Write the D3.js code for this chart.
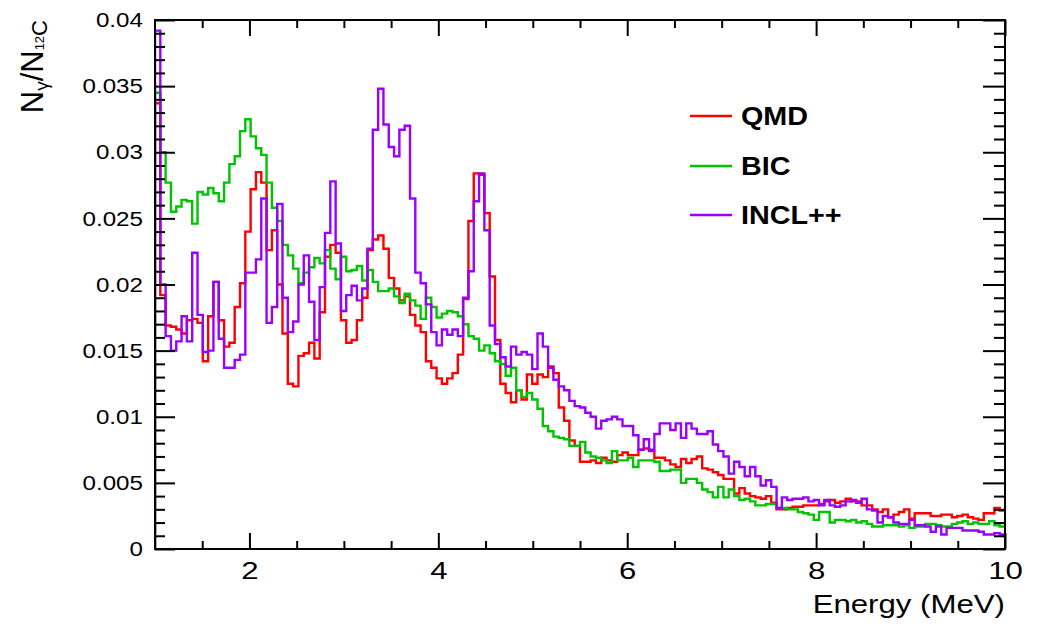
<!DOCTYPE html>
<html>
<head>
<meta charset="utf-8">
<script src="https://cdn.jsdelivr.net/npm/d3@7"></script>
<style>
  body { margin: 0; background: #fff; }
  text { font-family: "Liberation Sans", Arial, Helvetica, sans-serif; fill: #000; }
</style>
</head>
<body>
<svg id="chart" width="1038" height="631"></svg>
<script>
// ---------------------------------------------------------------------------
// Data: gamma yield per 12C ion, 160 bins between 1 and 10 MeV

const energyMin = 1;
const energyMax = 10;
const binCount = 160;

const qmdValues = [
  0.0337, 0.0192, 0.0169, 0.0168, 0.0166, 0.0163, 0.0173, 0.0174, 0.0171, 0.0142,
  0.0176, 0.0202, 0.0173, 0.0153, 0.0156, 0.0183, 0.0201, 0.0240, 0.0272, 0.0285,
  0.0277, 0.0226, 0.0241, 0.0200, 0.0163, 0.0125, 0.0123, 0.0146, 0.0148, 0.0156,
  0.0144, 0.0179, 0.0221, 0.0230, 0.0224, 0.0173, 0.0156, 0.0158, 0.0173, 0.0190,
  0.0226, 0.0234, 0.0237, 0.0227, 0.0205, 0.0197, 0.0188, 0.0191, 0.0177, 0.0169,
  0.0164, 0.0142, 0.0137, 0.0129, 0.0125, 0.0129, 0.0133, 0.0147, 0.0189, 0.0248,
  0.0284, 0.0283, 0.0254, 0.0206, 0.0158, 0.0125, 0.0118, 0.0111, 0.0120, 0.0113,
  0.0132, 0.0125, 0.0132, 0.0130, 0.0138, 0.0133, 0.0107, 0.0097, 0.0082, 0.0078,
  0.0066, 0.0066, 0.0067, 0.0065, 0.0069, 0.0067, 0.0066, 0.0071, 0.0073, 0.0071,
  0.0071, 0.0075, 0.0076, 0.0074, 0.0069, 0.0069, 0.0067, 0.0064, 0.0062, 0.0068,
  0.0065, 0.0068, 0.0070, 0.0061, 0.0060, 0.0058, 0.0056, 0.0053, 0.0053, 0.0042,
  0.0046, 0.0042, 0.0040, 0.0039, 0.0038, 0.0040, 0.0035, 0.0030, 0.0030, 0.0031,
  0.0032, 0.0032, 0.0033, 0.0033, 0.0033, 0.0034, 0.0036, 0.0037, 0.0035, 0.0036,
  0.0038, 0.0036, 0.0036, 0.0033, 0.0033, 0.0030, 0.0028, 0.0030, 0.0024, 0.0026,
  0.0028, 0.0030, 0.0023, 0.0027, 0.0027, 0.0027, 0.0025, 0.0025, 0.0026, 0.0026,
  0.0024, 0.0025, 0.0026, 0.0024, 0.0023, 0.0022, 0.0027, 0.0027, 0.0031, 0.0029
];

const bicValues = [
  0.0345, 0.0300, 0.0277, 0.0255, 0.0259, 0.0264, 0.0263, 0.0246, 0.0270, 0.0268,
  0.0273, 0.0269, 0.0263, 0.0277, 0.0291, 0.0297, 0.0316, 0.0325, 0.0312, 0.0303,
  0.0298, 0.0277, 0.0258, 0.0248, 0.0230, 0.0222, 0.0212, 0.0201, 0.0209, 0.0213,
  0.0220, 0.0216, 0.0226, 0.0212, 0.0204, 0.0221, 0.0210, 0.0211, 0.0214, 0.0203,
  0.0211, 0.0202, 0.0195, 0.0195, 0.0197, 0.0191, 0.0186, 0.0193, 0.0188, 0.0184,
  0.0174, 0.0190, 0.0183, 0.0175, 0.0178, 0.0180, 0.0179, 0.0176, 0.0170, 0.0161,
  0.0159, 0.0150, 0.0154, 0.0148, 0.0142, 0.0140, 0.0131, 0.0137, 0.0120, 0.0115,
  0.0118, 0.0113, 0.0106, 0.0093, 0.0089, 0.0085, 0.0084, 0.0083, 0.0078, 0.0078,
  0.0081, 0.0073, 0.0070, 0.0069, 0.0067, 0.0065, 0.0074, 0.0067, 0.0067, 0.0069,
  0.0062, 0.0067, 0.0067, 0.0067, 0.0066, 0.0059, 0.0059, 0.0060, 0.0060, 0.0050,
  0.0053, 0.0053, 0.0050, 0.0045, 0.0043, 0.0039, 0.0047, 0.0039, 0.0045, 0.0040,
  0.0037, 0.0038, 0.0036, 0.0033, 0.0033, 0.0034, 0.0034, 0.0031, 0.0031, 0.0030,
  0.0030, 0.0028, 0.0027, 0.0026, 0.0022, 0.0028, 0.0028, 0.0020, 0.0022, 0.0022,
  0.0021, 0.0022, 0.0020, 0.0021, 0.0019, 0.0017, 0.0017, 0.0018, 0.0018, 0.0018,
  0.0017, 0.0018, 0.0016, 0.0017, 0.0017, 0.0019, 0.0019, 0.0018, 0.0017, 0.0017,
  0.0019, 0.0020, 0.0021, 0.0019, 0.0020, 0.0019, 0.0019, 0.0021, 0.0018, 0.0017
];

const inclValues = [
  0.0392, 0.0200, 0.0161, 0.0150, 0.0157, 0.0176, 0.0157, 0.0224, 0.0177, 0.0149,
  0.0150, 0.0202, 0.0159, 0.0137, 0.0137, 0.0143, 0.0147, 0.0209, 0.0209, 0.0219,
  0.0265, 0.0171, 0.0183, 0.0261, 0.0190, 0.0164, 0.0172, 0.0200, 0.0222, 0.0187,
  0.0158, 0.0198, 0.0239, 0.0278, 0.0231, 0.0180, 0.0192, 0.0199, 0.0188, 0.0197,
  0.0227, 0.0317, 0.0348, 0.0321, 0.0304, 0.0297, 0.0317, 0.0320, 0.0265, 0.0209,
  0.0201, 0.0185, 0.0164, 0.0154, 0.0166, 0.0162, 0.0166, 0.0161, 0.0190, 0.0210,
  0.0263, 0.0284, 0.0241, 0.0169, 0.0155, 0.0145, 0.0138, 0.0153, 0.0147, 0.0149,
  0.0147, 0.0136, 0.0163, 0.0153, 0.0137, 0.0128, 0.0123, 0.0120, 0.0112, 0.0108,
  0.0107, 0.0103, 0.0100, 0.0091, 0.0097, 0.0098, 0.0100, 0.0098, 0.0093, 0.0093,
  0.0086, 0.0075, 0.0083, 0.0075, 0.0087, 0.0095, 0.0095, 0.0090, 0.0095, 0.0084,
  0.0095, 0.0091, 0.0087, 0.0087, 0.0089, 0.0079, 0.0074, 0.0070, 0.0057, 0.0066,
  0.0062, 0.0055, 0.0062, 0.0055, 0.0048, 0.0052, 0.0047, 0.0031, 0.0039, 0.0037,
  0.0038, 0.0038, 0.0039, 0.0036, 0.0037, 0.0033, 0.0037, 0.0033, 0.0032, 0.0033,
  0.0036, 0.0037, 0.0035, 0.0038, 0.0030, 0.0029, 0.0020, 0.0025, 0.0024, 0.0020,
  0.0019, 0.0019, 0.0022, 0.0018, 0.0018, 0.0017, 0.0013, 0.0017, 0.0011, 0.0016,
  0.0016, 0.0016, 0.0014, 0.0014, 0.0014, 0.0013, 0.0011, 0.0011, 0.0012, 0.0011
];

const seriesNames = ['QMD', 'BIC', 'INCL++'];
const seriesColors = ['#ff0000', '#00c400', '#9900ff'];

const xTickValues = [2, 4, 6, 8, 10];
const xTickLabels = ['2', '4', '6', '8', '10'];
const yTickValues = [0, 0.005, 0.01, 0.015, 0.02, 0.025, 0.03, 0.035, 0.04];
const yTickLabels = ['0', '0.005', '0.01', '0.015', '0.02', '0.025', '0.03', '0.035', '0.04'];

// ---------------------------------------------------------------------------
// Layout

const margin = {left: 155, right: 1005, top: 20, bottom: 549};
const svg = d3.select('#chart');

const x = d3.scaleLinear().domain([energyMin, energyMax]).range([margin.left, margin.right]);
const y = d3.scaleLinear().domain([0, 0.04]).range([margin.bottom, margin.top]);

const binWidth = (energyMax - energyMin) / binCount;
const binEdges = d3.range(binCount).map(i => energyMin + i * binWidth);

// minor ticks: 0.5 MeV on x, 0.001 on y
const xMinor = d3.range(3, 20).map(i => i / 2).filter(v => v % 2 !== 0);
const yMinor = d3.range(1, 40).filter(i => i % 5 !== 0).map(i => i / 1000);

svg.append('defs').append('clipPath').attr('id', 'plot-clip')
  .append('rect')
  .attr('x', margin.left).attr('y', margin.top - 2)
  .attr('width', margin.right - margin.left)
  .attr('height', margin.bottom - margin.top + 2);

// ---------------------------------------------------------------------------
// Histograms (drawn QMD, BIC, INCL++ so INCL++ sits on top)

const histLine = d3.line()
  .x(d => x(d[0]))
  .y(d => y(d[1]))
  .curve(d3.curveStepAfter);

[qmdValues, bicValues, inclValues].forEach((values, k) => {
  let pts = [[energyMin, 0]];
  binEdges.forEach((e, i) => pts.push([e, values[i]]));
  pts.push([energyMax, values[values.length - 1]]);
  svg.append('path')
    .attr('clip-path', 'url(#plot-clip)')
    .attr('d', histLine(pts))
    .attr('fill', 'none')
    .attr('stroke', seriesColors[k])
    .attr('stroke-width', 2.4)
    .attr('stroke-linejoin', 'miter');
});

// ---------------------------------------------------------------------------
// Axes (ticks point inwards, like ROOT)

function tickAxis(axis, transform) {
  let g = svg.append('g').attr('transform', transform).call(axis);
  g.select('.domain').remove();
  g.selectAll('.tick line').attr('stroke', '#000').attr('stroke-width', 2);
  return g;
}

tickAxis(d3.axisBottom(x).tickValues(xMinor).tickSize(-8).tickFormat(''), `translate(0,${margin.bottom})`);
tickAxis(d3.axisTop(x).tickValues(xMinor).tickSize(-8).tickFormat(''), `translate(0,${margin.top})`);
tickAxis(d3.axisTop(x).tickValues(xTickValues).tickSize(-16).tickFormat(''), `translate(0,${margin.top})`);
let xAxisG = tickAxis(
  d3.axisBottom(x).tickValues(xTickValues).tickSize(-16).tickPadding(13)
    .tickFormat((d, i) => xTickLabels[i]),
  `translate(0,${margin.bottom})`);
xAxisG.selectAll('text')
  .attr('font-size', 24)
  .attr('transform', 'scale(1.3,1)');

tickAxis(d3.axisLeft(y).tickValues(yMinor).tickSize(-10).tickFormat(''), `translate(${margin.left},0)`);
tickAxis(d3.axisRight(y).tickValues(yMinor).tickSize(-11).tickFormat(''), `translate(${margin.right},0)`);
tickAxis(d3.axisRight(y).tickValues(yTickValues).tickSize(-22).tickFormat(''), `translate(${margin.right},0)`);
let yAxisG = tickAxis(
  d3.axisLeft(y).tickValues(yTickValues).tickSize(-20).tickPadding(10.5)
    .tickFormat((d, i) => yTickLabels[i]),
  `translate(${margin.left},0)`);
yAxisG.selectAll('text')
  .attr('font-size', 21)
  .attr('transform', 'scale(1.15,1)');

// frame
svg.append('rect')
  .attr('x', margin.left).attr('y', margin.top)
  .attr('width', margin.right - margin.left)
  .attr('height', margin.bottom - margin.top)
  .attr('fill', 'none')
  .attr('stroke', '#000')
  .attr('stroke-width', 2);

// axis titles
svg.append('text')
  .attr('transform', `translate(${margin.right},613) scale(1.2,1)`)
  .attr('text-anchor', 'end')
  .attr('font-size', 26)
  .text('Energy (MeV)');

let yTitle = svg.append('text')
  .attr('transform', `translate(43,${margin.top}) rotate(-90)`)
  .attr('text-anchor', 'end')
  .attr('font-size', 31);
yTitle.append('tspan').text('N');
yTitle.append('tspan').attr('font-size', 19).attr('dy', 5).text('γ');
yTitle.append('tspan').attr('dy', -5).text('/N');
yTitle.append('tspan').attr('font-size', 13).attr('dy', 1).text('12');
yTitle.append('tspan').attr('font-size', 22).attr('dy', 3).text('C');

// ---------------------------------------------------------------------------
// Legend

const legendY = [116, 166, 215];
const legend = svg.append('g');
seriesNames.forEach((name, k) => {
  legend.append('line')
    .attr('x1', 690).attr('x2', 732)
    .attr('y1', legendY[k]).attr('y2', legendY[k])
    .attr('stroke', seriesColors[k])
    .attr('stroke-width', 2.4);
  legend.append('text')
    .attr('transform', `translate(741,${legendY[k] + 9}) scale(1.15,1)`)
    .attr('font-size', 25)
    .attr('font-weight', 'bold')
    .text(name);
});
</script>
</body>
</html>
